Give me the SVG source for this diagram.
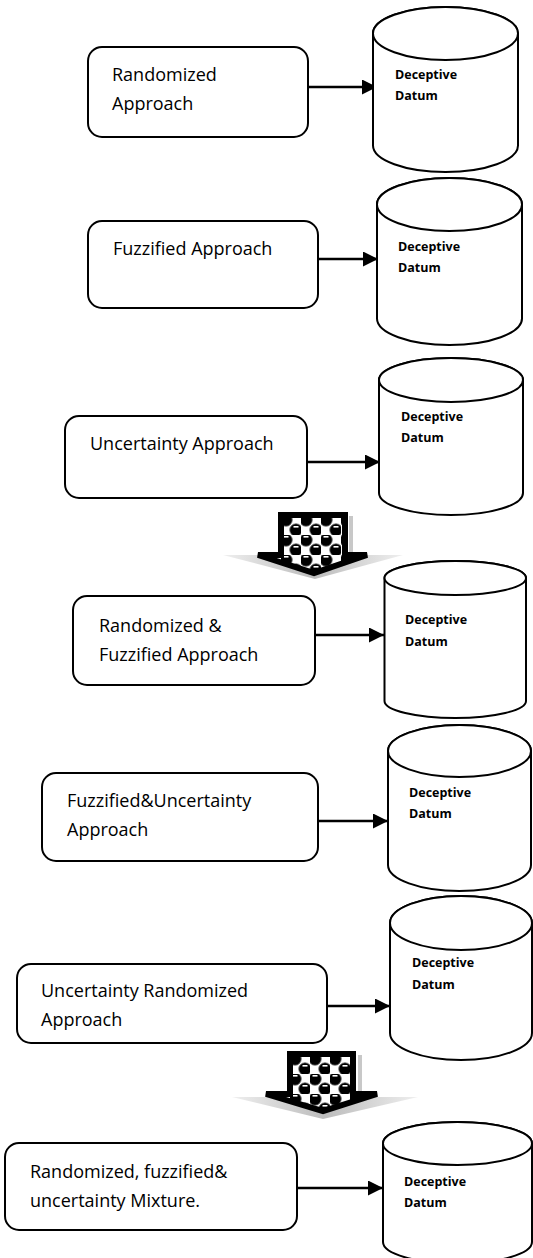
<svg xmlns="http://www.w3.org/2000/svg" width="533" height="1258" viewBox="0 0 533 1258">
  <style>
    .box { fill: #fff; stroke: #000; stroke-width: 2; }
    .can { fill: #fff; stroke: #000; stroke-width: 2; }
    .lbl { font-family: "Open Sans", "Noto Sans", sans-serif; font-size: 18px; fill: #000; }
    .db { font-family: "Open Sans", "Noto Sans", sans-serif; font-size: 12.5px; font-weight: bold; fill: #000; }
    .link { stroke: #000; stroke-width: 2.5; fill: none; marker-end: url(#head); }
    .blk { stroke: #000; stroke-width: 6; stroke-linejoin: miter; }
  </style>
  <defs>
    <marker id="head" markerUnits="userSpaceOnUse" markerWidth="16" markerHeight="16" refX="15" refY="7.5" orient="auto">
      <path d="M0,0 L15,7.5 L0,15 Z" fill="#000"/>
    </marker>
    <!-- sphere tile: black balls on a white checker -->
    <g id="tile">
      <rect width="20" height="20" fill="#fff"/>
      <circle cx="5" cy="5" r="6.3" fill="#000" stroke="#777" stroke-width="0.8"/>
      <circle cx="15" cy="15" r="6.3" fill="#000" stroke="#777" stroke-width="0.8"/>
      <circle cx="25" cy="-5" r="6.3" fill="#000" stroke="#777" stroke-width="0.8"/>
      <circle cx="-5" cy="25" r="6.3" fill="#000" stroke="#777" stroke-width="0.8"/>
      <rect x="2.5" y="1" width="5" height="1.6" fill="#fff"/>
      <rect x="12.5" y="11" width="5" height="1.6" fill="#fff"/>
    </g>
    <pattern id="balls1" patternUnits="userSpaceOnUse" x="281" y="515" width="20" height="20">
      <use href="#tile"/>
    </pattern>
    <pattern id="balls2" patternUnits="userSpaceOnUse" x="290" y="1054" width="20" height="20">
      <use href="#tile"/>
    </pattern>
    <linearGradient id="shade" x1="0" y1="0" x2="1" y2="0">
      <stop offset="0" stop-color="#efefef"/>
      <stop offset="0.5" stop-color="#bcbcbc"/>
      <stop offset="1" stop-color="#efefef"/>
    </linearGradient>
  </defs>

  <!-- connectors -->
  <g id="connectors">
    <line class="link" x1="308" y1="87" x2="377" y2="87"/>
    <line class="link" x1="318" y1="259" x2="378" y2="259"/>
    <line class="link" x1="307" y1="462" x2="380" y2="462"/>
    <line class="link" x1="315" y1="635" x2="384" y2="635"/>
    <line class="link" x1="318" y1="821" x2="388" y2="821"/>
    <line class="link" x1="327" y1="1006" x2="390" y2="1006"/>
    <line class="link" x1="297" y1="1188" x2="383" y2="1188"/>
  </g>

  <!-- approach boxes -->
  <g id="box-randomized">
    <rect class="box" x="88" y="47" width="220" height="90" rx="14"/>
    <text class="lbl" x="112" y="81">Randomized</text>
    <text class="lbl" x="112" y="110">Approach</text>
  </g>
  <g id="box-fuzzified">
    <rect class="box" x="88" y="221" width="230" height="87" rx="14"/>
    <text class="lbl" x="113" y="255">Fuzzified Approach</text>
  </g>
  <g id="box-uncertainty">
    <rect class="box" x="65" y="416" width="242" height="82" rx="14"/>
    <text class="lbl" x="90" y="450">Uncertainty Approach</text>
  </g>
  <g id="box-rand-fuzz">
    <rect class="box" x="73" y="596" width="242" height="89" rx="14"/>
    <text class="lbl" x="99" y="632">Randomized &amp;</text>
    <text class="lbl" x="99" y="661">Fuzzified Approach</text>
  </g>
  <g id="box-fuzz-unc">
    <rect class="box" x="42" y="773" width="276" height="88" rx="14"/>
    <text class="lbl" x="67" y="807">Fuzzified&amp;Uncertainty</text>
    <text class="lbl" x="67" y="836">Approach</text>
  </g>
  <g id="box-unc-rand">
    <rect class="box" x="17" y="964" width="310" height="79" rx="14"/>
    <text class="lbl" x="41" y="997">Uncertainty Randomized</text>
    <text class="lbl" x="41" y="1026">Approach</text>
  </g>
  <g id="box-mixture">
    <rect class="box" x="5" y="1143" width="292" height="87" rx="14"/>
    <text class="lbl" x="30" y="1178">Randomized, fuzzified&amp;</text>
    <text class="lbl" x="30" y="1207">uncertainty Mixture.</text>
  </g>

  <!-- datum stores -->
  <g id="datum-1">
    <path class="can" d="M373,33.5 A72.5,26.5 0 0 1 518,33.5 L518,145.5 A72.5,26.5 0 0 1 373,145.5 Z"/>
    <ellipse class="can" cx="445.5" cy="33.5" rx="72.5" ry="26.5"/>
    <text class="db" x="395" y="79">Deceptive</text>
    <text class="db" x="395" y="100">Datum</text>
  </g>
  <g id="datum-2">
    <path class="can" d="M377,204.5 A72.5,26.5 0 0 1 522,204.5 L522,318.5 A72.5,26.5 0 0 1 377,318.5 Z"/>
    <ellipse class="can" cx="449.5" cy="204.5" rx="72.5" ry="26.5"/>
    <text class="db" x="398" y="251">Deceptive</text>
    <text class="db" x="398" y="272">Datum</text>
  </g>
  <g id="datum-3">
    <path class="can" d="M379,380 A72,22 0 0 1 523,380 L523,493 A72,22 0 0 1 379,493 Z"/>
    <ellipse class="can" cx="451" cy="380" rx="72" ry="22"/>
    <text class="db" x="401" y="421">Deceptive</text>
    <text class="db" x="401" y="442">Datum</text>
  </g>
  <g id="datum-4">
    <path class="can" d="M384.5,578 A70.75,17 0 0 1 526,578 L526,701 A70.75,17 0 0 1 384.5,701 Z"/>
    <ellipse class="can" cx="455.25" cy="578" rx="70.75" ry="17"/>
    <text class="db" x="405" y="624">Deceptive</text>
    <text class="db" x="405" y="646">Datum</text>
  </g>
  <g id="datum-5">
    <path class="can" d="M388,751 A71.5,26 0 0 1 531,751 L531,865 A71.5,26 0 0 1 388,865 Z"/>
    <ellipse class="can" cx="459.5" cy="751" rx="71.5" ry="26"/>
    <text class="db" x="409" y="797">Deceptive</text>
    <text class="db" x="409" y="818">Datum</text>
  </g>
  <g id="datum-6">
    <path class="can" d="M390,923 A71,27 0 0 1 532,923 L532,1033 A71,27 0 0 1 390,1033 Z"/>
    <ellipse class="can" cx="461" cy="923" rx="71" ry="27"/>
    <text class="db" x="412" y="967">Deceptive</text>
    <text class="db" x="412" y="989">Datum</text>
  </g>
  <g id="datum-7">
    <path class="can" d="M383,1143.5 A74.5,21.5 0 0 1 532,1143.5 L532,1242 A74.5,21.5 0 0 1 383,1242 Z"/>
    <ellipse class="can" cx="457.5" cy="1143.5" rx="74.5" ry="21.5"/>
    <text class="db" x="404" y="1186">Deceptive</text>
    <text class="db" x="404" y="1207">Datum</text>
  </g>

  <!-- patterned block arrows between stages -->
  <g id="step-arrow-1">
    <polygon points="223,555 403,555 315,579" fill="url(#shade)"/>
    <rect x="349" y="516" width="4" height="38" fill="#c8c8c8"/>
    <path class="blk" fill="url(#balls1)" d="M281,515 H345 V555 H367 L314,573 L258,555 H281 Z"/>
  </g>
  <g id="step-arrow-2">
    <polygon points="232,1097 418,1097 323,1119" fill="url(#shade)"/>
    <rect x="358" y="1055" width="4" height="38" fill="#c8c8c8"/>
    <path class="blk" fill="url(#balls2)" d="M290,1054 H353 V1094 H377 L323,1111 L266,1094 H290 Z"/>
  </g>
</svg>
